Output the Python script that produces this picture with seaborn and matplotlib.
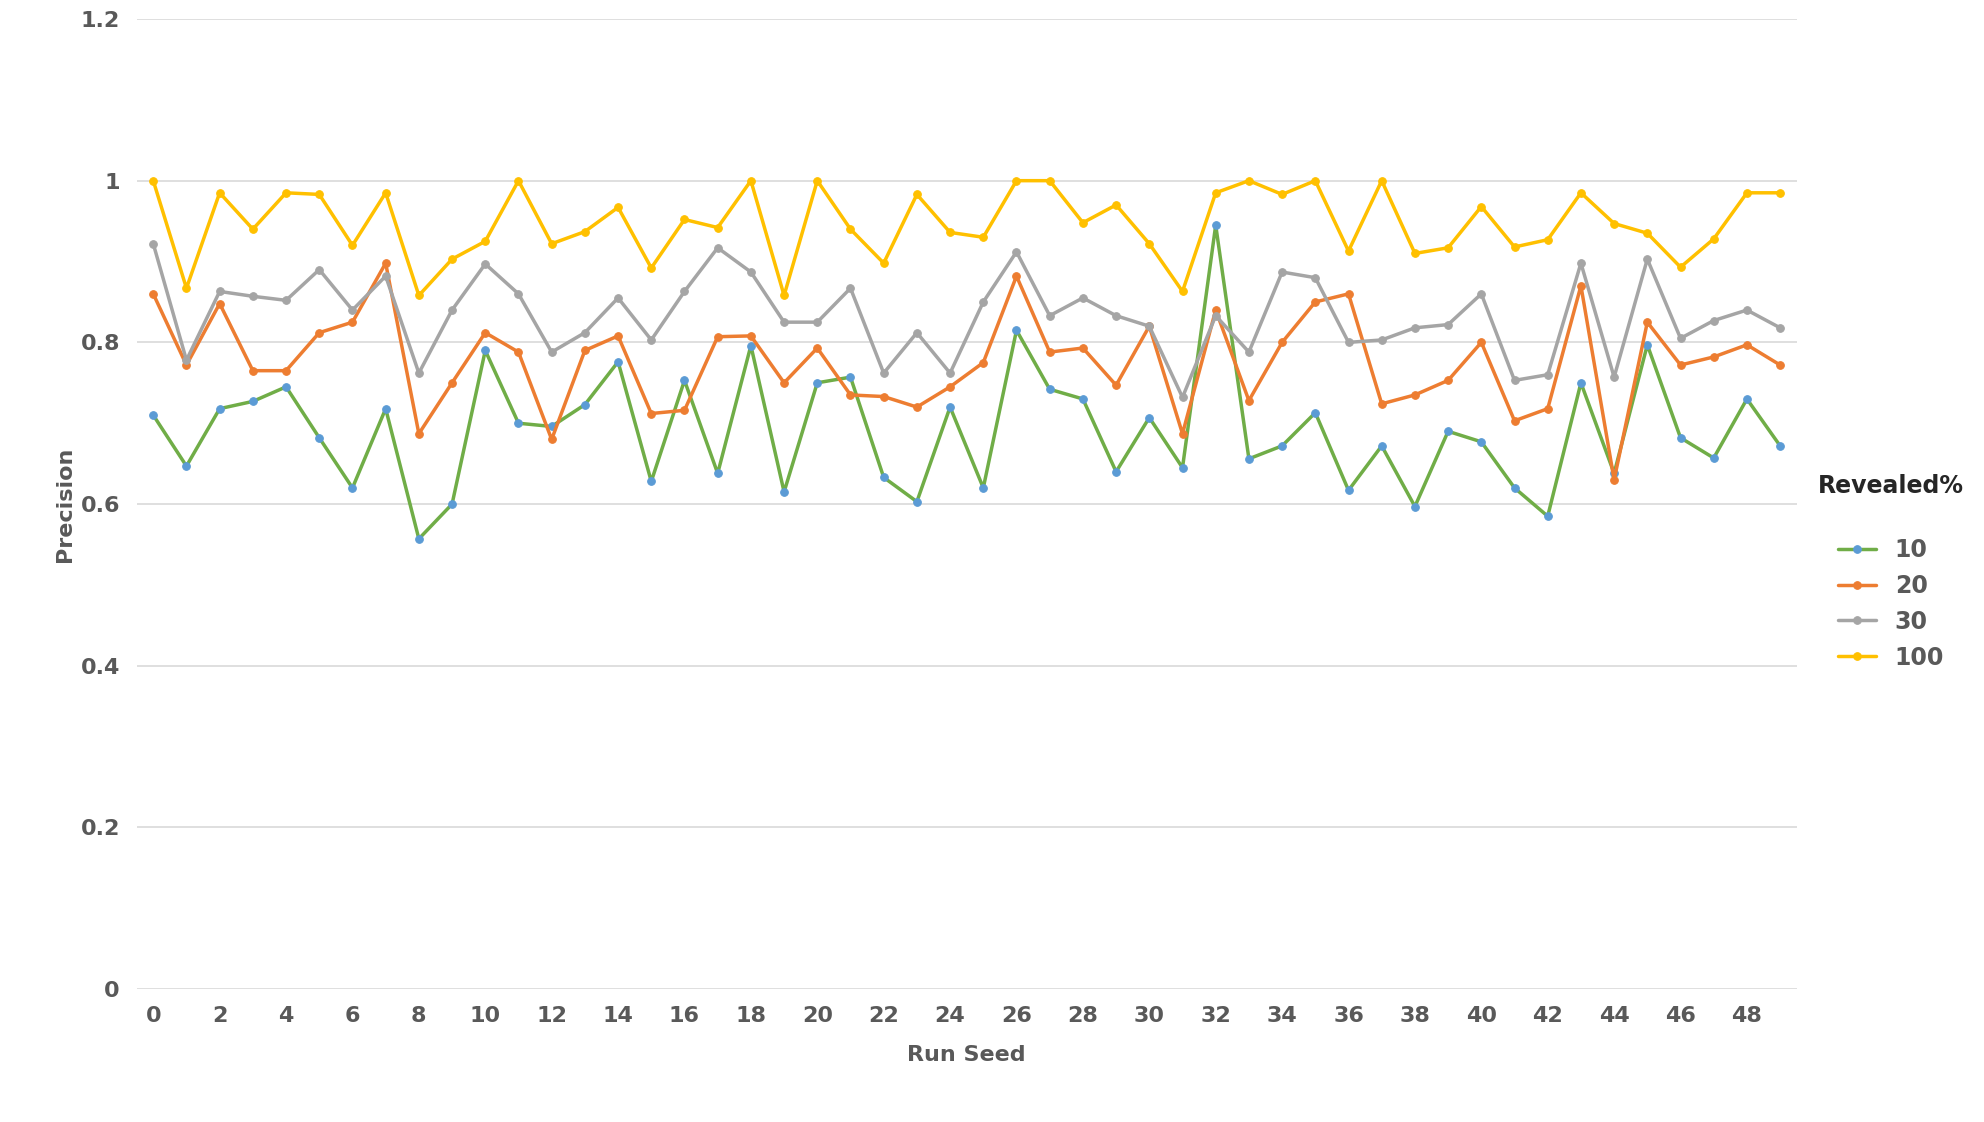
import numpy as np
import pandas as pd
import matplotlib
matplotlib.use("Agg")
import matplotlib.pyplot as plt
import seaborn as sns

seeds = list(range(50))
p10 = [0.71, 0.647, 0.718, 0.727, 0.745, 0.682, 0.62, 0.718, 0.557, 0.6,
       0.79, 0.7, 0.696, 0.723, 0.776, 0.628, 0.753, 0.638, 0.796, 0.615,
       0.75, 0.757, 0.633, 0.603, 0.72, 0.62, 0.815, 0.742, 0.73, 0.64,
       0.707, 0.645, 0.945, 0.656, 0.672, 0.713, 0.617, 0.672, 0.597, 0.69,
       0.677, 0.62, 0.585, 0.75, 0.638, 0.797, 0.682, 0.657, 0.73, 0.672]
p20 = [0.86, 0.772, 0.848, 0.765, 0.765, 0.812, 0.825, 0.898, 0.687, 0.75,
       0.812, 0.788, 0.68, 0.79, 0.808, 0.712, 0.716, 0.807, 0.808, 0.75,
       0.793, 0.735, 0.733, 0.72, 0.745, 0.775, 0.882, 0.788, 0.793, 0.747,
       0.82, 0.687, 0.84, 0.728, 0.8, 0.85, 0.86, 0.724, 0.735, 0.753,
       0.8, 0.703, 0.718, 0.87, 0.63, 0.825, 0.772, 0.782, 0.797, 0.772]
p30 = [0.922, 0.778, 0.863, 0.857, 0.852, 0.89, 0.84, 0.882, 0.762, 0.84,
       0.897, 0.86, 0.788, 0.812, 0.855, 0.803, 0.863, 0.917, 0.887, 0.825,
       0.825, 0.867, 0.762, 0.812, 0.762, 0.85, 0.912, 0.833, 0.855, 0.833,
       0.82, 0.732, 0.833, 0.788, 0.887, 0.88, 0.8, 0.803, 0.818, 0.822,
       0.86, 0.753, 0.76, 0.898, 0.757, 0.903, 0.805, 0.827, 0.84, 0.818]
p100 = [1.0, 0.867, 0.985, 0.94, 0.985, 0.983, 0.92, 0.985, 0.858, 0.903,
        0.925, 1.0, 0.922, 0.937, 0.967, 0.892, 0.952, 0.942, 1.0, 0.858,
        1.0, 0.94, 0.898, 0.983, 0.936, 0.93, 1.0, 1.0, 0.948, 0.97,
        0.922, 0.863, 0.985, 1.0, 0.983, 1.0, 0.913, 1.0, 0.91, 0.917,
        0.968, 0.918, 0.927, 0.985, 0.947, 0.935, 0.893, 0.928, 0.985, 0.985]

series = {"10": p10, "20": p20, "30": p30, "100": p100}
line_colors = {"10": "#70AD47", "20": "#ED7D31", "30": "#A5A5A5", "100": "#FFC000"}
marker_colors = {"10": "#5B9BD5", "20": "#ED7D31", "30": "#A5A5A5", "100": "#FFC000"}

df = pd.concat(
    [pd.DataFrame({"seed": seeds, "precision": v, "revealed": k}) for k, v in series.items()]
)

sns.set_style("white")
plt.rcParams["font.family"] = ["DejaVu Sans"]
fig = plt.figure(figsize=(19.84, 11.22), dpi=100)
ax = fig.add_axes([108 / 1568, 1 - 782 / 887, (1420 - 108) / 1568, (782 - 15) / 887])

for k in series:
    sub = df[df["revealed"] == k]
    sns.lineplot(data=sub, x="seed", y="precision", ax=ax, color=line_colors[k],
                 linewidth=2.5, marker="o", markersize=5.5,
                 markerfacecolor=marker_colors[k], markeredgecolor=marker_colors[k],
                 label=k)

ax.set_xlim(-0.5, 49.5)
ax.set_ylim(0, 1.2)
ax.set_xticks(range(0, 50, 2))
ax.set_yticks([0, 0.2, 0.4, 0.6, 0.8, 1.0, 1.2])
ax.set_yticklabels(["0", "0.2", "0.4", "0.6", "0.8", "1", "1.2"])
ax.yaxis.grid(True, color="#D9D9D9", linewidth=1.2)
ax.set_axisbelow(True)
for s in ax.spines.values():
    s.set_visible(False)
ax.tick_params(axis="both", length=0, labelsize=16, labelcolor="#595959", pad=12)
for t in ax.get_xticklabels() + ax.get_yticklabels():
    t.set_fontweight("bold")
ax.set_xlabel("Run Seed", fontsize=16, fontweight="bold", color="#595959", labelpad=14)
ax.set_ylabel("Precision", fontsize=16, fontweight="bold", color="#595959")

leg = ax.legend(title="Revealed%\n", loc="center left", bbox_to_anchor=(1.0, 0.43),
                frameon=False, fontsize=17, title_fontsize=17, handlelength=1.6,
                labelspacing=0.5)
leg.get_title().set_fontweight("bold")
for t in leg.get_texts():
    t.set_fontweight("bold")
    t.set_color("#595959")

fig.savefig("out.png", dpi=100)
